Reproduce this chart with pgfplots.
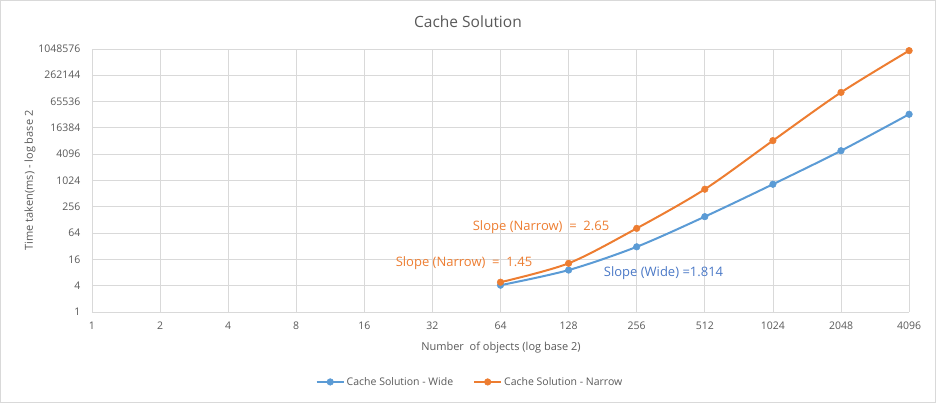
\documentclass[border=0pt]{standalone}
\usepackage{pgfplots}
\pgfplotsset{compat=1.18}
\usepackage{fontspec}
\setmainfont{Open Sans}
\definecolor{cblue}{HTML}{5B9BD5}
\definecolor{cbluetext}{HTML}{4A78C6}
\definecolor{corange}{HTML}{ED7D31}
\definecolor{gridc}{HTML}{D9D9D9}
\definecolor{txt}{HTML}{595959}
\begin{document}
\begin{tikzpicture}[x=1pt,y=1pt]
\draw[gridc, line width=0.8pt] (-91.5,-90.5) rectangle (843.5,311.5);
\begin{axis}[
  at={(0,0)}, anchor=origin,
  scale only axis, width=817pt, height=263pt,
  xmode=log, ymode=log, log basis x=2, log basis y=2,
  xmin=1, xmax=4096, ymin=1, ymax=1048576,
  xtick={1,2,4,8,16,32,64,128,256,512,1024,2048,4096},
  xticklabels={1,2,4,8,16,32,64,128,256,512,1024,2048,4096},
  ytick={1,4,16,64,256,1024,4096,16384,65536,262144,1048576},
  yticklabels={1,4,16,64,256,1024,4096,16384,65536,262144,1048576},
  grid=major, grid style={gridc, line width=0.8pt},
  axis line style={gridc, line width=0.8pt},
  axis x line*=bottom, axis y line*=left,
  major tick length=0pt, minor tick num=0,
  tick label style={font=\fontsize{10.5}{12}\selectfont, text=txt},
  xticklabel style={yshift=-6pt},
  yticklabel style={xshift=-8pt},
  label style={font=\fontsize{11}{12}\selectfont, text=txt},
  clip=false,
  legend style={at={(rel axis cs:0.4627,-0.266)}, anchor=center, draw=none, fill=none,
    font=\fontsize{10.5}{12}\selectfont, text=txt, legend columns=2,
    /tikz/every even column/.append style={column sep=18pt},
    /tikz/every odd column/.append style={column sep=0pt}},
  legend image code/.code={\draw[#1] (0pt,0pt) -- (27pt,0pt); \draw[#1, mark repeat=1] plot coordinates {(13.5pt,0pt)};},
]
\addplot[cblue, line width=2pt, smooth, mark=*, mark size=3.3pt, mark options={fill=cblue, draw=cblue, line width=0.5pt}]
 coordinates {(64,4.1) (128,9.1) (256,31) (512,152) (1024,838) (2048,4900) (4096,33500)};
\addlegendentry{Cache Solution - Wide}
\addplot[corange, line width=2pt, smooth, mark=*, mark size=3.3pt, mark options={fill=corange, draw=corange, line width=0.5pt}]
 coordinates {(64,4.8) (128,13) (256,82) (512,645) (1024,8350) (2048,106000) (4096,957000)};
\addlegendentry{Cache Solution - Narrow}
\node[font=\fontsize{15.5}{18}\selectfont, text=txt] at (rel axis cs:0.4602,1.1027) {Cache Solution};
\node[font=\fontsize{11}{12}\selectfont, text=txt] at (rel axis cs:0.5006,-0.1369) {Number\ \ of objects (log base 2)};
\node[font=\fontsize{11}{12}\selectfont, text=txt, rotate=90] at (rel axis cs:-0.0759,0.5) {Time taken(ms) - log base 2};
\node[font=\fontsize{13}{15}\selectfont, text=corange] at (rel axis cs:0.5496,0.3232) {Slope (Narrow)\ \ =\ \ 2.65};
\node[font=\fontsize{13}{15}\selectfont, text=corange] at (rel axis cs:0.4553,0.1863) {Slope (Narrow)\ \ =\ \ 1.45};
\node[font=\fontsize{13}{15}\selectfont, text=cbluetext] at (rel axis cs:0.6995,0.1483) {Slope (Wide) =1.814};
\end{axis}
\end{tikzpicture}
\end{document}
